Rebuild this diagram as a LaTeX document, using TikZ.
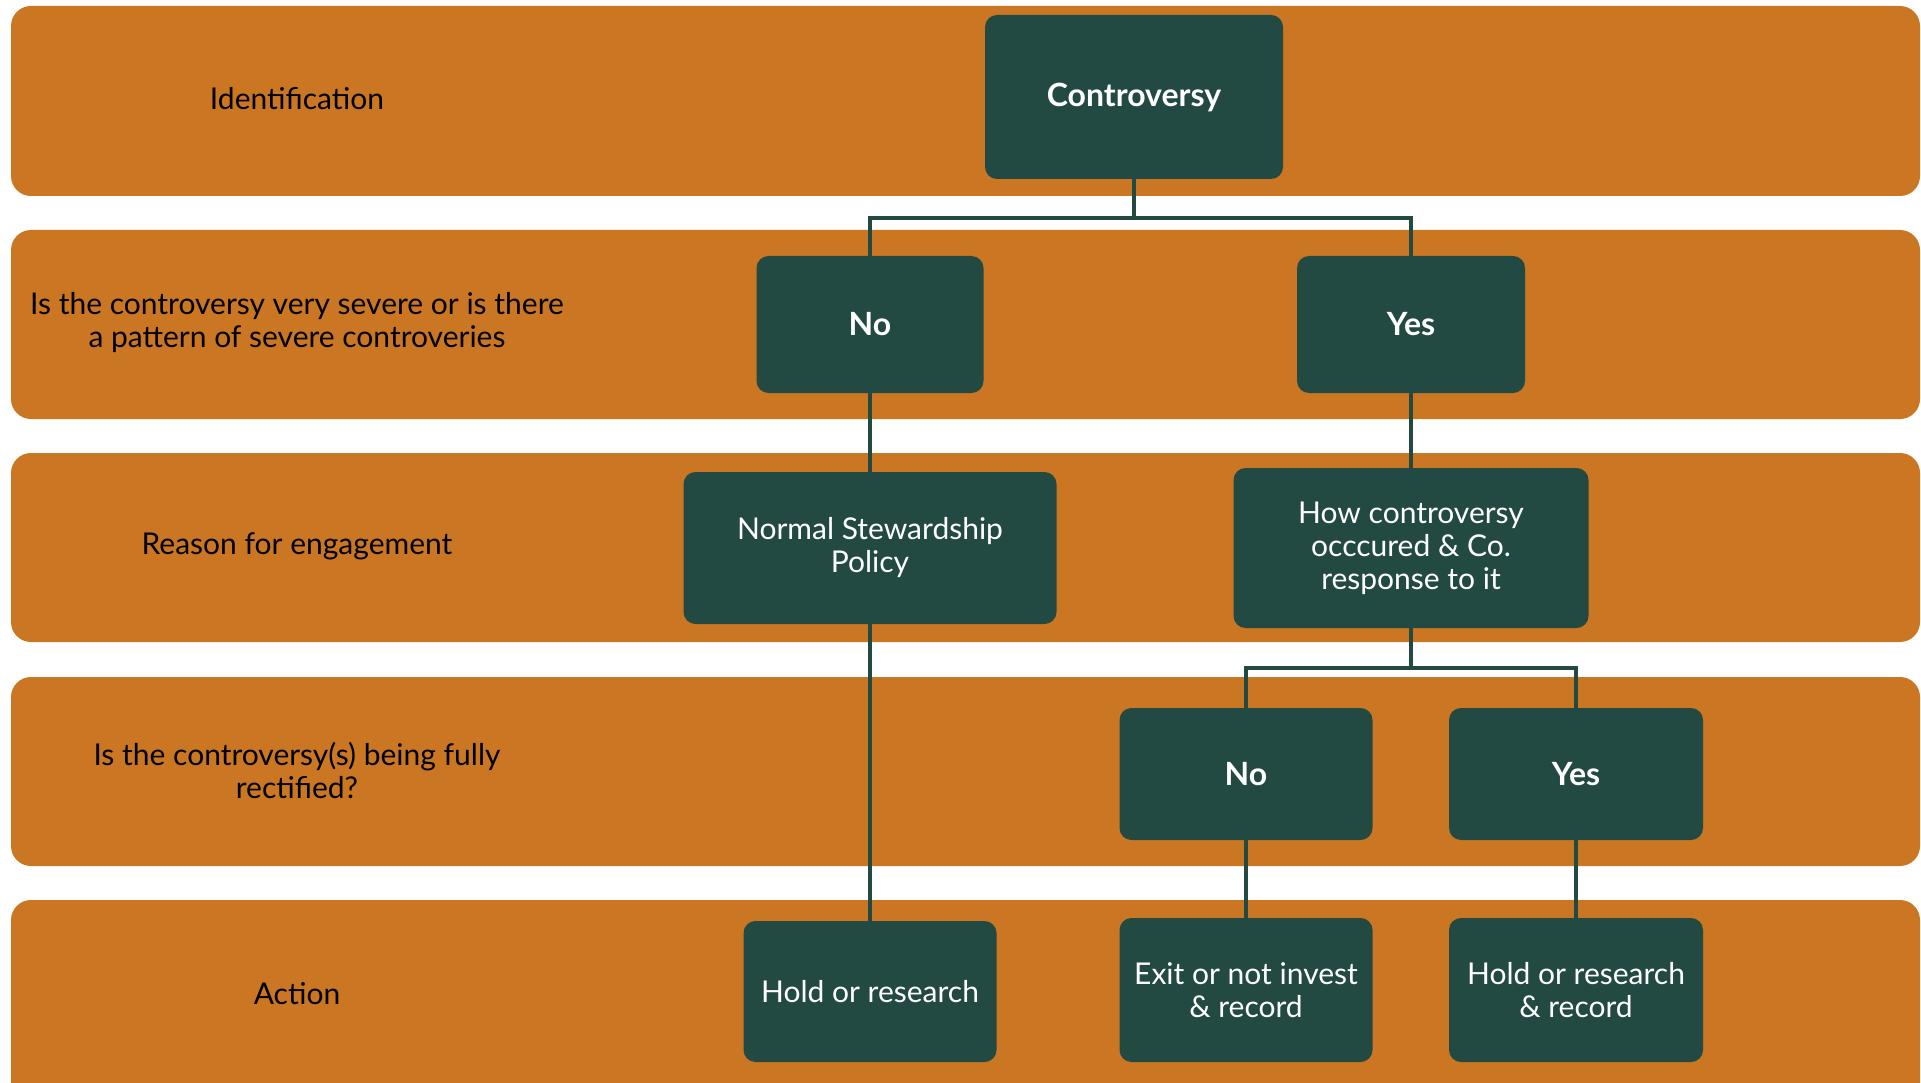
\documentclass[tikz,border=0pt]{standalone}
\usepackage{fontspec}
\setmainfont{Lato}
\definecolor{bandorange}{RGB}{203,118,35}
\definecolor{boxgreen}{RGB}{35,74,66}
\tikzset{
  band/.style={fill=bandorange, rounded corners=20pt},
  lbl/.style={text=black, align=center, font=\fontsize{30}{33}\selectfont},
  gbox/.style={fill=boxgreen, rounded corners=12pt, text=white, align=center,
    font=\fontsize{30}{33}\selectfont, inner sep=0pt},
  gboxb/.style={gbox, font=\fontsize{32}{33}\selectfont\bfseries},
  conn/.style={draw=boxgreen, line width=4.5pt}
}
\begin{document}
\begin{tikzpicture}[x=1pt,y=-1pt]
\useasboundingbox (0,0) rectangle (1921,1083);
\clip (0,0) rectangle (1921,1083);
% bands
\fill[band] (11,6) rectangle (1920,196);
\fill[band] (11,230) rectangle (1920,419);
\fill[band] (11,453) rectangle (1920,642);
\fill[band] (11,677) rectangle (1920,866);
\fill[band] (11,900) rectangle (1920,1110);
% row labels
\node[lbl] (l1) at (297,99) {Identification};
\node[lbl] (l2) at (297,323) {Is the controversy very severe or is there\\a pattern of severe controveries};
\node[lbl] (l3) at (297,546) {Reason for engagement};
\node[lbl] (l4) at (297,770) {Is the controversy(s) being fully\\rectified?};
\node[lbl] (l5) at (297,994) {Action};
% boxes
\node[gboxb, minimum width=298pt, minimum height=164pt] (contr) at (1134,97) {Controversy};
\node[gboxb, minimum width=227pt, minimum height=137pt] (no1) at (870,324.5) {No};
\node[gboxb, minimum width=228pt, minimum height=137pt] (yes1) at (1411,324.5) {Yes};
\node[gbox, minimum width=373pt, minimum height=152pt] (nsp) at (870,548) {Normal Stewardship\\Policy};
\node[gbox, minimum width=355pt, minimum height=160pt] (how) at (1411,548) {How controversy\\occcured \& Co.\\response to it};
\node[gboxb, minimum width=253pt, minimum height=132pt] (no2) at (1246,774) {No};
\node[gboxb, minimum width=254pt, minimum height=132pt] (yes2) at (1576,774) {Yes};
\node[gbox, minimum width=253pt, minimum height=141pt] (hold1) at (870,991.5) {Hold or research};
\node[gbox, minimum width=253pt, minimum height=144pt] (exit) at (1246,990) {Exit or not invest\\\& record};
\node[gbox, minimum width=254pt, minimum height=144pt] (hold2) at (1576,990) {Hold or research\\\& record};
% connectors
\coordinate (j1) at (1134,218);
\coordinate (j2) at (1411,668);
\draw[conn] (contr.south) -- (j1) -| (no1.north);
\draw[conn] (j1) -| (yes1.north);
\draw[conn] (no1) -- (nsp);
\draw[conn] (nsp) -- (hold1);
\draw[conn] (yes1) -- (how);
\draw[conn] (how.south) -- (j2) -| (no2.north);
\draw[conn] (j2) -| (yes2.north);
\draw[conn] (no2) -- (exit);
\draw[conn] (yes2) -- (hold2);
\end{tikzpicture}
\end{document}
